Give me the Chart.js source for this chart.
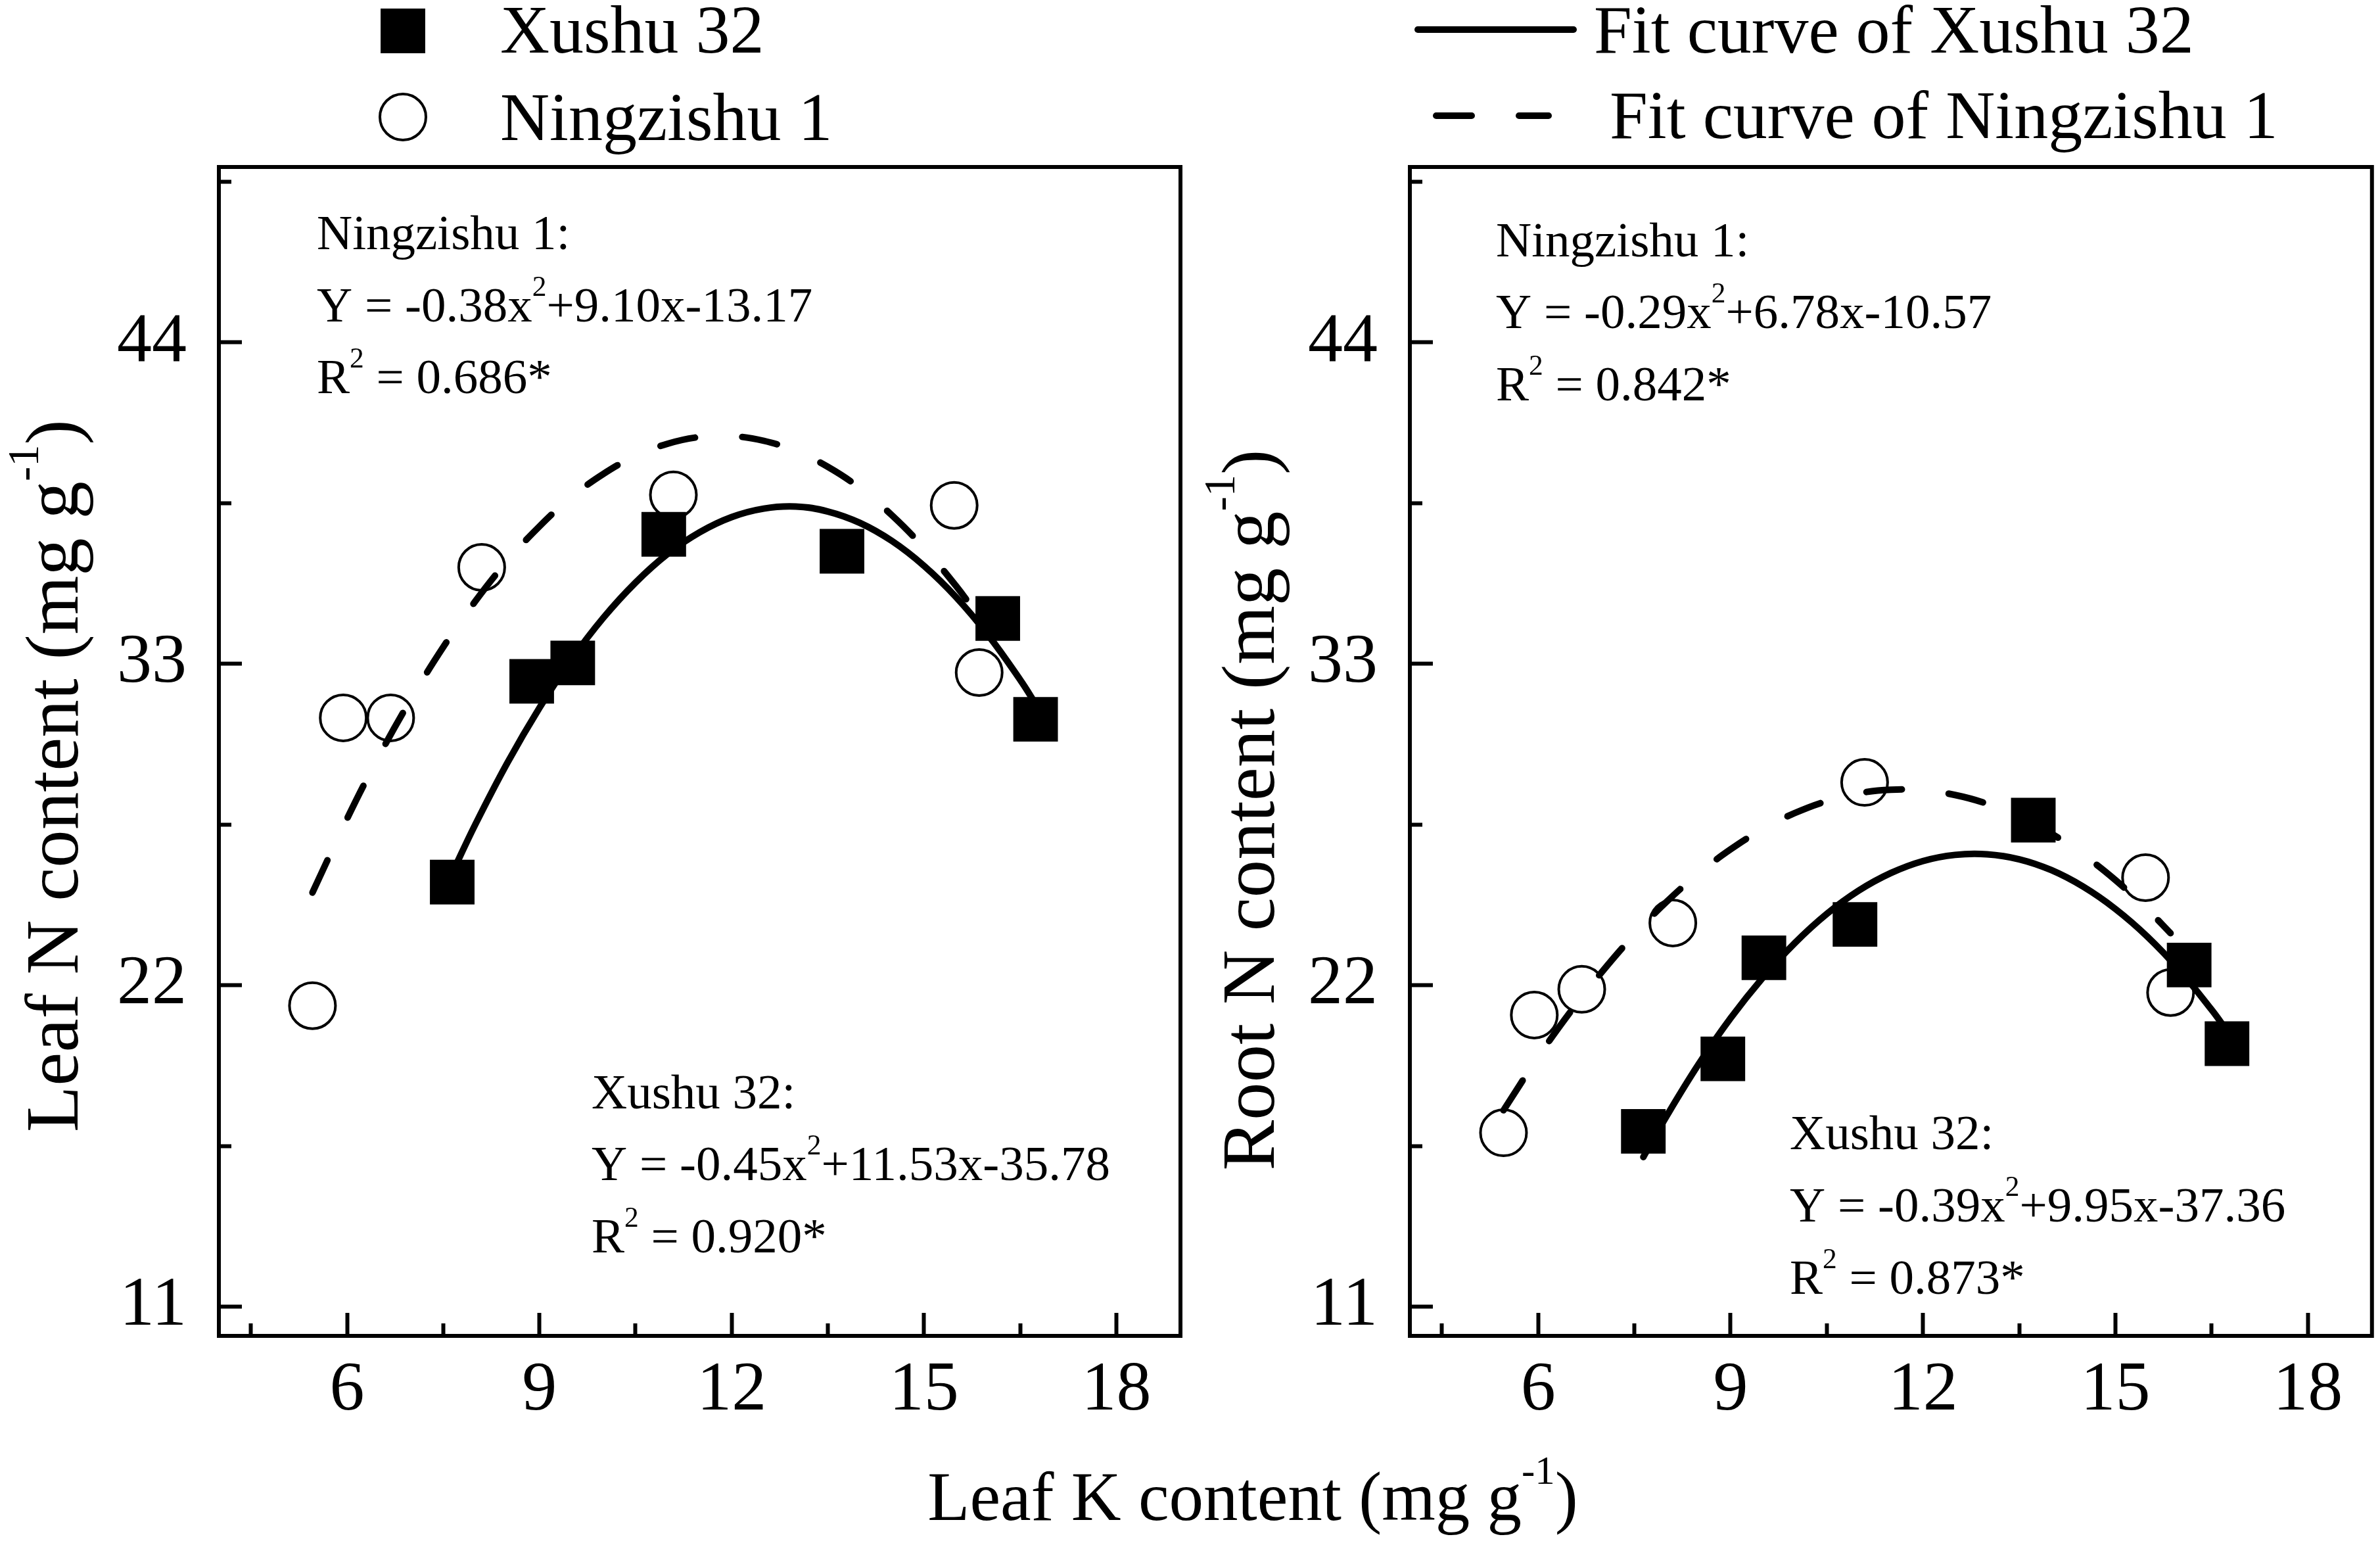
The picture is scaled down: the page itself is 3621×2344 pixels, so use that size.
<!DOCTYPE html>
<html>
<head>
<meta charset="utf-8">
<style>
html,body{margin:0;padding:0;background:#fff;width:3621px;height:2344px;overflow:hidden;}
canvas{position:absolute;left:0;top:0;}
</style>
<script src="https://cdn.jsdelivr.net/npm/chart.js"></script>
</head>
<body>
<canvas id="leftChart" width="3621" height="2344"></canvas>
<canvas id="rightChart" width="3621" height="2344"></canvas>
<script>
// ---------------- data ----------------
const seriesNames = ['Xushu 32', 'Ningzishu 1'];
const fitNames = ['Fit curve of Xushu 32', 'Fit curve of Ningzishu 1'];

// Leaf K content (x) of the observations
const leafK_Xushu = [7.64, 8.88, 9.52, 10.94, 13.72, 16.15, 16.74];
const leafK_Ningzishu = [5.46, 5.94, 6.68, 8.10, 11.09, 15.47, 15.86];

// Leaf N content
const leafN_Xushu = [25.53, 32.40, 33.03, 37.43, 36.85, 34.55, 31.10];
const leafN_Ningzishu = [21.30, 31.15, 31.15, 36.30, 38.78, 38.42, 32.70];

// Root N content
const rootN_Xushu = [17.00, 19.48, 22.94, 24.08, 27.65, 22.69, 20.00];
const rootN_Ningzishu = [16.95, 20.98, 21.86, 24.13, 28.94, 25.68, 21.75];

// fitted curves, points
const fitK_Xushu = [7.64, 8, 8.5, 9, 9.5, 10, 10.5, 11, 11.5, 12, 12.5, 13, 13.5, 14, 14.5, 15, 15.5, 16, 16.5, 16.76];
const fitLeafN_Xushu = [25.84, 27.50, 29.61, 31.49, 33.15, 34.58, 35.78, 36.76, 37.50, 38.02, 38.31, 38.38, 38.21, 37.82, 37.20, 36.35, 35.28, 33.98, 32.45, 31.56];
const fitRootN_Xushu = [16.12, 17.51, 19.29, 20.87, 22.25, 23.44, 24.44, 25.24, 25.84, 26.25, 26.46, 26.48, 26.31, 25.94, 25.37, 24.61, 23.66, 22.51, 21.16, 20.38];

const fitK_Ningzishu = [5.46, 6, 6.5, 7, 7.5, 8, 8.5, 9, 9.5, 10, 10.5, 11, 11.5, 12, 12.5, 13, 13.5, 14, 14.5, 15, 15.5, 15.86];
const fitLeafN_Ningzishu = [25.17, 27.70, 29.85, 31.80, 33.57, 35.14, 36.52, 37.70, 38.70, 39.50, 40.11, 40.53, 40.76, 40.79, 40.63, 40.28, 39.74, 39.01, 38.08, 36.96, 35.66, 34.59];
const fitRootN_Ningzishu = [17.72, 19.54, 21.08, 22.47, 23.73, 24.85, 25.82, 26.65, 27.34, 27.89, 28.30, 28.57, 28.69, 28.67, 28.51, 28.21, 27.77, 27.19, 26.46, 25.60, 24.59, 23.78];

// axes
const xMajorTicks = [6, 9, 12, 15, 18];
const xMinorTicks = [4.5, 7.5, 10.5, 13.5, 16.5];
const yMajorTicks = [11, 22, 33, 44];
const yMinorTicks = [16.5, 27.5, 38.5, 49.5];
const xRange = [4, 19];
const yRange = [10, 50];

// texts
const xTitleText = 'Leaf K content (mg g^{-1})';
const yTitleLeft = 'Leaf N content (mg g^{-1})';
const yTitleRight = 'Root N content (mg g^{-1})';
const eqLeafN_Ningzishu = ['Ningzishu 1:', 'Y = -0.38x^{2}+9.10x-13.17', 'R^{2} = 0.686*'];
const eqLeafN_Xushu = ['Xushu 32:', 'Y = -0.45x^{2}+11.53x-35.78', 'R^{2} = 0.920*'];
const eqRootN_Ningzishu = ['Ningzishu 1:', 'Y = -0.29x^{2}+6.78x-10.57', 'R^{2} = 0.842*'];
const eqRootN_Xushu = ['Xushu 32:', 'Y = -0.39x^{2}+9.95x-37.36', 'R^{2} = 0.873*'];

// ---------------- rendering ----------------
const W = 3621, H = 2344;
const FONT = "'Liberation Serif', 'Times New Roman', serif";
Chart.defaults.font.family = FONT;
Chart.defaults.color = '#000';

function pts(xs, ys) { return xs.map((x, i) => ({ x: x, y: ys[i] })); }

function drawRich(ctx, text, x, y, size, align) {
  const parts = [];
  const re = /\^\{([^}]*)\}/g;
  let last = 0, m;
  while ((m = re.exec(text))) {
    if (m.index > last) parts.push({ t: text.slice(last, m.index), sup: false });
    parts.push({ t: m[1], sup: true });
    last = re.lastIndex;
  }
  if (last < text.length) parts.push({ t: text.slice(last), sup: false });
  const supSize = size * 0.58;
  let total = 0;
  parts.forEach(p => {
    ctx.font = (p.sup ? supSize : size) + 'px ' + FONT;
    p.w = ctx.measureText(p.t).width;
    total += p.w;
  });
  let cx = align === 'center' ? x - total / 2 : (align === 'right' ? x - total : x);
  ctx.textAlign = 'left';
  ctx.textBaseline = 'alphabetic';
  ctx.fillStyle = '#000';
  parts.forEach(p => {
    ctx.font = (p.sup ? supSize : size) + 'px ' + FONT;
    ctx.fillText(p.t, cx, p.sup ? y - size * 0.52 : y);
    cx += p.w;
  });
}

function legendMarker(ctx, ds, x, y) {
  ctx.save();
  ctx.fillStyle = ds.pointBackgroundColor;
  ctx.strokeStyle = ds.pointBorderColor;
  ctx.lineWidth = ds.pointBorderWidth;
  const o = { pointStyle: ds.pointStyle, radius: ds.pointRadius, rotation: 0, borderWidth: ds.pointBorderWidth };
  if (Chart.helpers && Chart.helpers.drawPoint) {
    Chart.helpers.drawPoint(ctx, o, x, y);
  } else {
    ctx.beginPath();
    if (ds.pointStyle === 'rect') {
      const s = ds.pointRadius * Math.SQRT1_2;
      ctx.rect(x - s, y - s, 2 * s, 2 * s);
    } else {
      ctx.arc(x, y, ds.pointRadius, 0, Math.PI * 2);
    }
    ctx.fill();
    if (ds.pointBorderWidth > 0) ctx.stroke();
  }
  ctx.restore();
}

function legendLine(ctx, ds, x1, x2, y) {
  ctx.save();
  ctx.strokeStyle = ds.borderColor;
  ctx.lineWidth = ds.borderWidth;
  ctx.lineCap = ds.borderCapStyle || 'butt';
  ctx.setLineDash(ds.borderDash || []);
  ctx.beginPath();
  ctx.moveTo(x1, y);
  ctx.lineTo(x2, y);
  ctx.stroke();
  ctx.restore();
}

function makeDecor(cfg) {
  return {
    id: 'panelDecor',
    beforeDatasetsDraw(chart) {
      const ctx = chart.ctx, a = chart.chartArea;
      ctx.save();
      ctx.strokeStyle = '#000';
      ctx.lineWidth = 6;
      ctx.beginPath();
      ctx.moveTo(a.left - 3, a.top);
      ctx.lineTo(a.right + 3, a.top);
      ctx.moveTo(a.right, a.top - 3);
      ctx.lineTo(a.right, a.bottom + 3);
      ctx.stroke();
      ctx.restore();
    },
    afterDraw(chart) {
      const ctx = chart.ctx;
      ctx.save();
      cfg.notes.forEach(n => {
        n.lines.forEach((t, i) => drawRich(ctx, t, n.x, n.y[i], 75, 'left'));
      });
      ctx.save();
      ctx.translate(cfg.yTitle.x, cfg.yTitle.y);
      ctx.rotate(-Math.PI / 2);
      drawRich(ctx, cfg.yTitle.text, 0, 0, 115, 'center');
      ctx.restore();
      if (cfg.xTitle) drawRich(ctx, cfg.xTitle.text, cfg.xTitle.x, cfg.xTitle.y, 105, 'center');
      if (cfg.legend) {
        const ds = chart.data.datasets;
        legendMarker(ctx, ds[0], 613, 47);
        drawRich(ctx, ds[0].label, 761, 80, 104, 'left');
        legendMarker(ctx, ds[1], 613, 178);
        drawRich(ctx, ds[1].label, 761, 213, 104, 'left');
        legendLine(ctx, ds[2], 2157, 2394, 45);
        drawRich(ctx, ds[2].label, 2425, 80, 104, 'left');
        legendLine(ctx, ds[3], 2185, 2356, 176);
        drawRich(ctx, ds[3].label, 2449, 210, 104, 'left');
      }
      ctx.restore();
    }
  };
}

function buildChart(id, p) {
  const tickFont = { size: 106, family: FONT };
  return new Chart(document.getElementById(id).getContext('2d'), {
    type: 'scatter',
    data: {
      datasets: [
        { label: seriesNames[0], data: pts(leafK_Xushu, p.xuY), pointStyle: 'rect', pointRadius: 48, pointHoverRadius: 48,
          pointBackgroundColor: '#000', pointBorderColor: '#000', pointBorderWidth: 0, order: 1 },
        { label: seriesNames[1], data: pts(leafK_Ningzishu, p.ningY), pointStyle: 'circle', pointRadius: 35, pointHoverRadius: 35,
          pointBackgroundColor: 'rgba(0,0,0,0)', pointBorderColor: '#000', pointBorderWidth: 4, order: 1 },
        { label: fitNames[0], data: pts(fitK_Xushu, p.fitXuY), showLine: true, borderColor: '#000', borderWidth: 10,
          borderCapStyle: 'round', borderJoinStyle: 'round', pointRadius: 0, pointHoverRadius: 0,
          tension: 0.4, fill: false, order: 2 },
        { label: fitNames[1], data: pts(fitK_Ningzishu, p.fitNingY), showLine: true, borderColor: '#000', borderWidth: 10,
          borderDash: [54, 72], borderCapStyle: 'round', borderJoinStyle: 'round', pointRadius: 0, pointHoverRadius: 0,
          tension: 0.4, fill: false, order: 2 }
      ]
    },
    options: {
      responsive: false, animation: false, devicePixelRatio: 1, events: [],
      layout: { autoPadding: false, padding: { top: p.area.top, right: W - p.area.right, bottom: 0, left: 0 } },
      plugins: { legend: { display: false }, tooltip: { enabled: false } },
      scales: {
        x: {
          type: 'linear', axis: 'x', position: 'bottom', min: xRange[0], max: xRange[1], weight: 1,
          afterBuildTicks: s => { s.ticks = xMajorTicks.map(v => ({ value: v })); },
          afterFit: s => { s.height = H - p.area.bottom; },
          grid: { drawOnChartArea: false, drawTicks: true, tickLength: -35, tickWidth: 6, tickColor: '#000' },
          border: { display: true, width: 6, color: '#000' },
          ticks: { font: tickFont, color: '#000', padding: 56, maxRotation: 0, autoSkip: false }
        },
        xMinor: {
          type: 'linear', axis: 'x', position: 'bottom', min: xRange[0], max: xRange[1], weight: 0,
          afterBuildTicks: s => { s.ticks = xMinorTicks.map(v => ({ value: v })); },
          afterFit: s => { s.height = 0; },
          grid: { drawOnChartArea: false, drawTicks: true, tickLength: -19, tickWidth: 6, tickColor: '#000' },
          border: { display: false },
          ticks: { display: false }
        },
        y: {
          type: 'linear', axis: 'y', position: 'left', min: yRange[0], max: yRange[1], weight: 1,
          afterBuildTicks: s => { s.ticks = yMajorTicks.map(v => ({ value: v })); },
          afterFit: s => { s.width = p.area.left; },
          grid: { drawOnChartArea: false, drawTicks: true, tickLength: -35, tickWidth: 6, tickColor: '#000' },
          border: { display: true, width: 6, color: '#000' },
          ticks: { font: tickFont, color: '#000', padding: 84, autoSkip: false }
        },
        yMinor: {
          type: 'linear', axis: 'y', position: 'left', min: yRange[0], max: yRange[1], weight: 0,
          afterBuildTicks: s => { s.ticks = yMinorTicks.map(v => ({ value: v })); },
          afterFit: s => { s.width = 0; },
          grid: { drawOnChartArea: false, drawTicks: true, tickLength: -19, tickWidth: 6, tickColor: '#000' },
          border: { display: false },
          ticks: { display: false }
        }
      }
    },
    plugins: [makeDecor(p.decor)]
  });
}

buildChart('leftChart', {
  xuY: leafN_Xushu, ningY: leafN_Ningzishu, fitXuY: fitLeafN_Xushu, fitNingY: fitLeafN_Ningzishu,
  area: { left: 333, right: 1796, top: 254, bottom: 2032 },
  decor: {
    notes: [
      { lines: eqLeafN_Ningzishu, x: 482, y: [379, 489, 598] },
      { lines: eqLeafN_Xushu, x: 900, y: [1686, 1795, 1905] }
    ],
    yTitle: { text: yTitleLeft, x: 118, y: 1180 },
    xTitle: { text: xTitleText, x: 1906, y: 2312 },
    legend: true
  }
});

buildChart('rightChart', {
  xuY: rootN_Xushu, ningY: rootN_Ningzishu, fitXuY: fitRootN_Xushu, fitNingY: fitRootN_Ningzishu,
  area: { left: 2145, right: 3609, top: 254, bottom: 2032 },
  decor: {
    notes: [
      { lines: eqRootN_Ningzishu, x: 2276, y: [390, 499, 609] },
      { lines: eqRootN_Xushu, x: 2723, y: [1748, 1858, 1968] }
    ],
    yTitle: { text: yTitleRight, x: 1938, y: 1232 },
    xTitle: null,
    legend: false
  }
});
</script>
</body>
</html>
